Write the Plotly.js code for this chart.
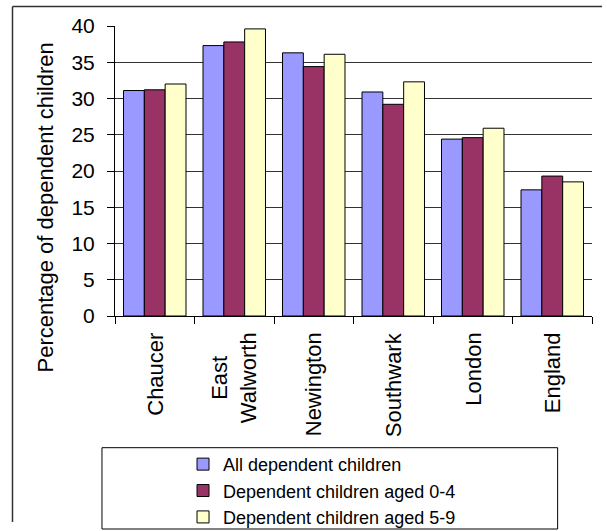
<!DOCTYPE html>
<html>
<head>
<meta charset="utf-8">
<script src="https://cdn.plot.ly/plotly-3.0.1.min.js"></script>
<style>html,body{margin:0;padding:0;background:#fff;}#chart{width:607px;height:531px;}</style>
</head>
<body>
<div id="chart"></div>
<script>
var categories = ["Chaucer", "East Walworth", "Newington", "Southwark", "London", "England"];
var categoryLabels = ["Chaucer", "East<br>Walworth", "Newington", "Southwark", "London", "England"];
var seriesNames = ["All dependent children", "Dependent children aged 0-4", "Dependent children aged 5-9"];
var allChildren = [31.1, 37.3, 36.3, 30.9, 24.4, 17.4];
var aged0to4 = [31.2, 37.8, 34.4, 29.2, 24.6, 19.3];
var aged5to9 = [32.0, 39.6, 36.1, 32.3, 25.9, 18.5];
var yTickVals = [0, 5, 10, 15, 20, 25, 30, 35, 40];
var yTitle = "Percentage of dependent children";

var colors = ["#9999FF", "#993366", "#FFFFCC"];
var seriesValues = [allChildren, aged0to4, aged5to9];
var font = "Liberation Sans, Arial, sans-serif";

var traces = seriesValues.map(function (vals, i) {
  return {
    type: "bar",
    name: seriesNames[i],
    x: categories,
    y: vals,
    marker: { color: colors[i], line: { color: "#000", width: 1 } },
    hoverinfo: "x+y+name"
  };
});

var annotations = categories.map(function (c, i) {
  return {
    x: c, xref: "x", y: -0.05, yref: "paper",
    text: categoryLabels[i], textangle: -90,
    showarrow: false, xanchor: "center", yanchor: "top", align: "center",
    font: { family: font, size: 22, color: "#000" }
  };
});
annotations.push({
  x: -0.1447, xref: "paper", y: 0.374, yref: "paper",
  text: yTitle, textangle: -90, showarrow: false,
  xanchor: "center", yanchor: "middle",
  font: { family: font, size: 22, color: "#000" }
});

var layout = {
  width: 607, height: 531,
  margin: { l: 115, r: 15, t: 26, b: 215, autoexpand: false },
  paper_bgcolor: "#fff", plot_bgcolor: "#fff",
  font: { family: font, color: "#000" },
  barmode: "group", bargap: 0.214, bargroupgap: 0,
  showlegend: true,
  legend: {
    x: 0.1426, xanchor: "left", y: -0.448, yanchor: "top",
    bgcolor: "rgba(0,0,0,0)", borderwidth: 0,
    font: { family: font, size: 18, color: "#000" },
    traceorder: "normal"
  },
  xaxis: {
    type: "category", showticklabels: false,
    ticks: "outside", ticklen: 7, tickcolor: "#000", tickson: "boundaries",
    showline: true, linecolor: "#000", linewidth: 1,
    showgrid: false, zeroline: false, fixedrange: true
  },
  yaxis: {
    range: [0, 40], tickvals: yTickVals,
    ticks: "outside", ticklen: 7, tickcolor: "#000",
    ticklabelstandoff: 8,
    tickfont: { family: font, size: 21, color: "#000" },
    showline: true, linecolor: "#000", linewidth: 1,
    showgrid: true, gridcolor: "#333", gridwidth: 1,
    zeroline: false, fixedrange: true
  },
  annotations: annotations,
  shapes: [
    { type: "rect", xref: "paper", yref: "paper", x0: -0.0273, x1: 0.928, y0: -0.7345, y1: -0.4541,
      line: { color: "#000", width: 1 }, fillcolor: "rgba(0,0,0,0)" },
    { type: "line", xref: "paper", yref: "paper", x0: -0.2149, x1: -0.2149, y0: -0.7103, y1: 1.0672,
      line: { color: "#333", width: 1.5 } },
    { type: "line", xref: "paper", yref: "paper", x0: -0.2149, x1: 1.021, y0: 1.0672, y1: 1.0672,
      line: { color: "#333", width: 1.5 } }
  ]
};

Plotly.newPlot("chart", traces, layout, { displayModeBar: false, staticPlot: false });
</script>
</body>
</html>
